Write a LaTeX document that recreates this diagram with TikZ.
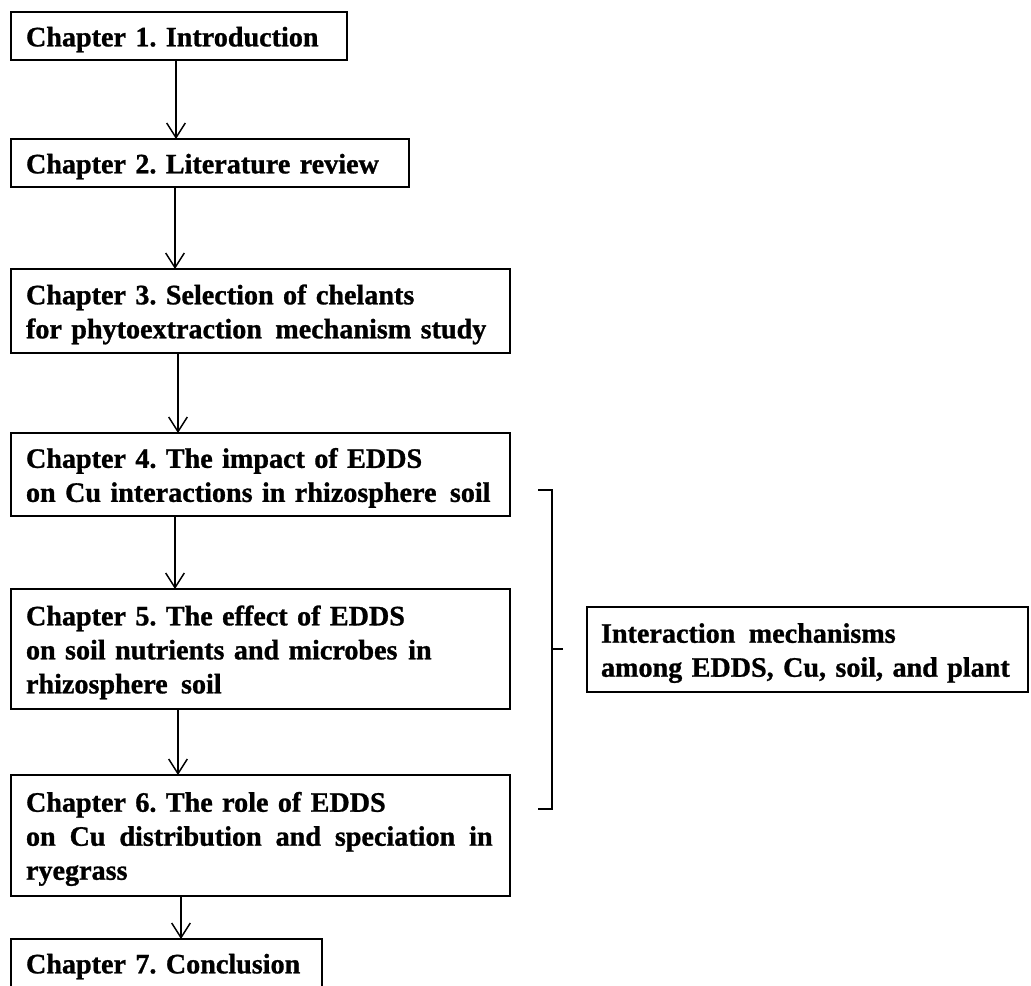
\documentclass[tikz,border=0pt]{standalone}
\usepackage{fontspec}
\setmainfont{Liberation Serif}[BoldFeatures={FakeBold=1}]
\usetikzlibrary{arrows.meta,calc}
\newcommand{\dsp}{\hspace{3pt}}
\newcommand{\lineof}[1]{\mbox{#1}}
\tikzset{
  chapbox/.style={draw, line width=1.5pt, outer sep=0pt, anchor=north west,
    align=left, inner xsep=11.25pt, inner ysep=0pt, text height=20pt,
    font=\fontsize{21.1pt}{25.5pt}\selectfont\bfseries\frenchspacing},
  arr/.style={line width=1.1pt, -{Straight Barb[length=11pt,width=14pt,line width=1.1pt]}},
  brace/.style={line width=1.1pt}
}
\begin{document}
\begin{tikzpicture}[x=0.75pt,y=-0.75pt]
\useasboundingbox (0,0) rectangle (1031,985);
\clip (0,0) rectangle (1031,985);
\node[chapbox, text width=229.5pt, minimum height=36pt] (b1) at (11,12) {\lineof{Chapter 1. Introduction}};
\node[chapbox, text width=276pt, minimum height=36pt] (b2) at (11,139) {\lineof{Chapter 2. Literature review}};
\node[chapbox, text width=351.75pt, minimum height=63pt] (b3) at (11,269) {\lineof{Chapter 3. Selection of chelants}\\\lineof{for phytoextraction\dsp{} mechanism study}};
\node[chapbox, text width=351.75pt, minimum height=62.25pt] (b4) at (11,433) {\lineof{Chapter 4. The impact of EDDS}\\\lineof{on Cu interactions in rhizosphere\dsp{} soil}};
\node[chapbox, text width=351.75pt, minimum height=90pt] (b5) at (11,589) {\lineof{Chapter 5. The effect of EDDS}\\\lineof{on soil nutrients and microbes\hspace{1pt} in}\\\lineof{rhizosphere\dsp{} soil}};
\node[chapbox, text width=351.75pt, minimum height=90.75pt] (b6) at (11,775) {\lineof{Chapter 6. The role of EDDS}\\\makebox[350pt][s]{on\hfill Cu\hfill distribution\hfill and\hfill speciation\hfill in}\\\lineof{ryegrass}};
\node[chapbox, text width=210.75pt, minimum height=36pt] (b7) at (11,939) {\lineof{Chapter 7. Conclusion}};
\node[chapbox, inner xsep=10.5pt, text width=309.75pt, minimum height=63.75pt] (im) at (587,607) {\lineof{Interaction\dsp{} mechanisms}\\\lineof{among EDDS, Cu, soil, and plant}};
\draw[arr] ($(b1.south west)+(165,0)$) -- ($(b2.north west)+(165,0)$);
\draw[arr] ($(b2.south west)+(164,0)$) -- ($(b3.north west)+(164,0)$);
\draw[arr] ($(b3.south west)+(167,0)$) -- ($(b4.north west)+(167,0)$);
\draw[arr] ($(b4.south west)+(164,0)$) -- ($(b5.north west)+(164,0)$);
\draw[arr] ($(b5.south west)+(167,0)$) -- ($(b6.north west)+(167,0)$);
\draw[arr] ($(b6.south west)+(170,0)$) -- ($(b7.north west)+(170,0)$);
\draw[brace] (538,490) -- (552,490) -- (552,809) -- (538,809);
\draw[brace] (552,649) -- (563,649);
\end{tikzpicture}
\end{document}
